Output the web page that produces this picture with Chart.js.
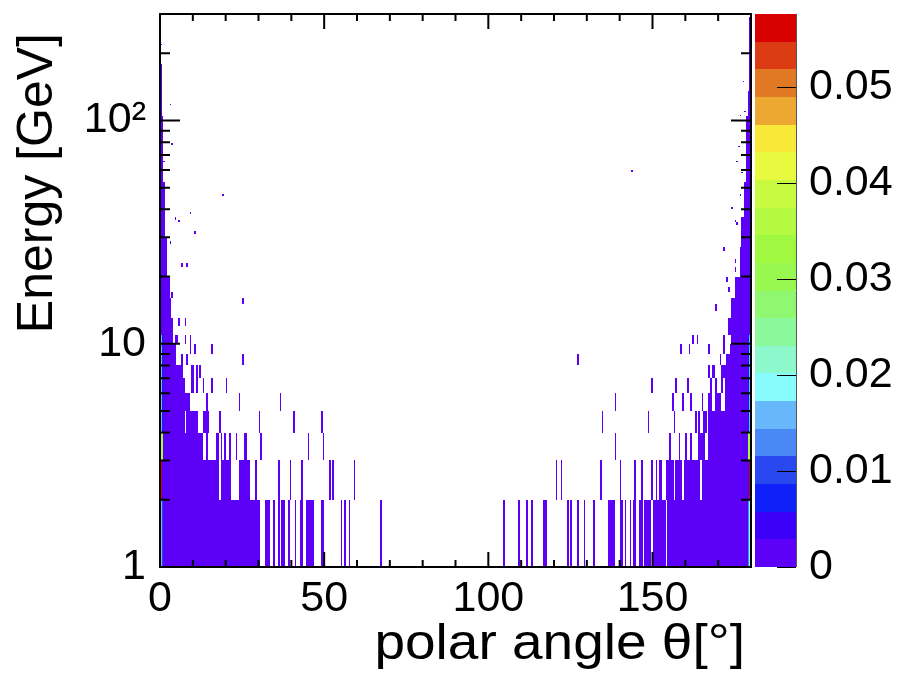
<!DOCTYPE html>
<html>
<head>
<meta charset="utf-8">
<script src="https://cdn.jsdelivr.net/npm/chart.js@4.4.1/dist/chart.umd.min.js"></script>
<style>
  html, body { margin: 0; padding: 0; background: #fff; }
  canvas { display: block; }
</style>
</head>
<body>
<canvas id="chartTheta" width="899" height="684"></canvas>
<script>
// axis ticks and titles
const X_TICKS = [0, 50, 100, 150];
const X_MINOR = [10, 20, 30, 40, 60, 70, 80, 90, 110, 120, 130, 140, 160, 170];
const Y_TICKS = [1, 10, 100];
const Y_TICK_LABELS = ['1', '10', '10²'];
const Y_MINOR = [2, 3, 4, 5, 6, 7, 8, 9, 20, 30, 40, 50, 60, 70, 80, 90, 200];
const Z_TICKS = [0, 0.01, 0.02, 0.03, 0.04, 0.05];
const Z_TICK_LABELS = ['0', '0.01', '0.02', '0.03', '0.04', '0.05'];
const X_TITLE = 'polar angle θ[°]';
const Y_TITLE = 'Energy [GeV]';

// ranges
const THETA_MIN = 0, THETA_MAX = 180, THETA_BIN = 0.5;
const E_MIN = 1, E_MAX = 300;
const Z_MAX = 0.0576, Z_LEVELS = 20;

// ROOT palette, one colour per contour level (bottom -> top)
const PALETTE = [
    '#5c00f8', '#3a00f8', '#1020f8', '#2a48f0', '#4a88f5',
    '#66b8fa', '#88fcfc', '#8cf8cc', '#8cf89c', '#90f870',
    '#98f850', '#a0f840', '#b4fa40', '#c8fa40', '#e8fa40',
    '#f8e838', '#eca830', '#e07824', '#dc3c14', '#d80000'
];

// filled theta spans [from, to] (deg) per 1 GeV energy row, rows 1..10
const E_ROWS = [1, 2, 3, 4, 5, 6, 7, 8, 9, 10];
const ROW_SPANS = [
    [[0, 30.5], [32, 33.5], [34.5, 35], [36, 36.5], [37, 38], [39, 39.5], [41, 41.5], [42.5, 43.5], [44.5, 47], [49, 50],
     [55, 55.5], [56, 56.5], [57.5, 58], [67, 67.5],
     [104.5, 105], [109, 109.5], [111.5, 112], [113, 113.5], [116.5, 118], [124, 124.5], [125, 125.5], [127, 127.5],
     [129, 129.5], [132, 132.5], [136.5, 138.5], [140, 141], [141.5, 142], [143, 143.5], [144, 145], [146, 147],
     [147.5, 149.5], [150, 154], [154.5, 180]],
    [[0, 18], [18.5, 21.5], [24, 27.5], [29, 29.5], [36, 36.5], [39.5, 40], [43, 43.5], [51.5, 52], [52.5, 53], [59, 59.5],
     [120.5, 121], [122, 122.5], [134, 134.5], [140, 140.5], [144.5, 145], [146.5, 147], [149.5, 150], [151, 151.5],
     [152, 153], [154, 156.5], [157, 159], [159.5, 164.5], [165, 180]],
    [[0, 13], [14, 14.5], [17, 18], [18.5, 19], [19.5, 20], [21, 21.5], [23, 23.5], [25.5, 26.5], [30.5, 31], [45, 45.5], [49.5, 50],
     [138.5, 139], [155, 155.5], [158, 158.5], [160, 160.5], [161.5, 162], [164, 166], [167, 180]],
    [[0, 7.5], [8, 11.5], [13, 15], [18, 18.5], [30, 30.5], [40.5, 41], [49, 49.5],
     [134.5, 135], [148.5, 149], [156.5, 157], [163, 163.5], [164, 164.5], [165.5, 166.5], [167, 180]],
    [[0, 9], [14, 14.5], [24, 24.5], [36.5, 37],
     [138.5, 139], [156, 156.5], [159, 159.5], [161.5, 162], [165, 165.5], [167, 168], [169, 171], [172, 180]],
    [[0, 7.5], [9.5, 10.5], [11, 11.5], [13, 13.5], [15.5, 16], [20, 20.5],
     [149.5, 150], [157, 157.5], [160.5, 161], [167.5, 168], [169, 169.5], [171, 171.5], [172, 180]],
    [[0, 7], [9.5, 10.5], [11, 11.5], [12, 12.5],
     [167, 167.5], [168, 169], [171, 180]],
    [[0, 5], [6.5, 7], [8, 8.5], [25, 25.5],
     [127, 127.5], [170.5, 171], [172.5, 180]],
    [[0, 5], [9, 9.5], [10.5, 11], [15.5, 16],
     [158.5, 159], [161, 161.5], [167, 167.5], [171.5, 172], [173.5, 180]],
    [[0, 4], [4.5, 5.5], [7.5, 8], [9, 9.5],
     [162, 162.5], [163.5, 164], [171.5, 172], [174, 180]]
];

// higher energies: [E from, E to, filled width from 0 deg, filled width from 180 deg]
const EDGE_BANDS = [
    [11, 13, 4, 7],
    [13, 16, 3.5, 6],
    [16, 20, 3, 5],
    [20, 27, 2, 3.5],
    [27, 30, 2, 3],
    [30, 37, 1.5, 3],
    [37, 53, 1.5, 2],
    [53, 105, 1, 1.5],
    [105, 135, 0.5, 1],
    [135, 180, 0.5, 0.5],
    [180, 290, 0, 0.5]
];

// isolated filled cells [theta deg, E GeV]
const SCATTER = [
    [0.25, 220], [3.25, 118], [19.25, 46], [9.0, 38], [10.5, 31], [25.25, 15.6], [4.9, 36.6], [5.75, 35],
    [6.75, 22.5], [8.0, 22.5], [3.75, 78], [1.25, 65], [3.9, 16], [5.5, 12.5], [7.5, 12.5], [3.25, 28],
    [143.5, 59], [177.5, 150], [178.25, 109], [176.75, 105], [176.25, 76], [175.5, 65], [177, 58], [176.5, 46],
    [174, 40], [175, 35], [175.5, 34], [171.75, 26.8], [175.25, 23.4], [175.25, 21], [172.5, 19], [173, 17.6],
    [169.25, 14.9]
];

// bins next to the beam axis carry most of the weight (rows 1..10)
const HOT_LEFT_EDGE  = [0.017, 0.055, 0.037, 0.016, 0.016, 0.016, 0.016, 0.016, 0.016, 0.016];
const HOT_LEFT_NEXT  = [0.010, 0.004, 0.032, 0.006, 0.006, 0.006, 0.006, 0.006, 0.006, 0.006];
const HOT_RIGHT_EDGE = [0.020, 0.055, 0.037, 0.016, 0.016, 0.016, 0.016, 0.016, 0.016, 0.016];
const HOT_RIGHT_NEXT = [0.012, 0.008, 0.032, 0.008, 0.008, 0.008, 0.008, 0.008, 0.008, 0.008];
const BASE_VALUE = 0.0008;

function buildCells() {
    const map = new Map();
    const put = (x, e, v) => map.set(x + '|' + e, { x: x, e: e, v: v });
    const fillSpan = (a, b, e, v) => {
        for (let x = a; x < b - 1e-9; x += THETA_BIN) put(x, e, v);
    };

    E_ROWS.forEach((e, i) => {
        ROW_SPANS[i].forEach(s => fillSpan(s[0], s[1], e, BASE_VALUE));
    });
    EDGE_BANDS.forEach(([e0, e1, wl, wr]) => {
        for (let e = e0; e < e1; e++) {
            fillSpan(THETA_MIN, THETA_MIN + wl, e, BASE_VALUE);
            fillSpan(THETA_MAX - wr, THETA_MAX, e, BASE_VALUE);
        }
    });
    SCATTER.forEach(([t, en]) => {
        put(Math.floor(t / THETA_BIN) * THETA_BIN, Math.floor(en), BASE_VALUE);
    });
    E_ROWS.forEach((e, i) => {
        put(0, e, HOT_LEFT_EDGE[i]);
        put(0.5, e, HOT_LEFT_NEXT[i]);
        put(179.5, e, HOT_RIGHT_EDGE[i]);
        put(179, e, HOT_RIGHT_NEXT[i]);
    });
    return Array.from(map.values());
}

const cells = buildCells();

function colourFor(v) {
    const k = Math.min(Z_LEVELS - 1, Math.floor(v / (Z_MAX / Z_LEVELS)));
    return PALETTE[k];
}

// keep the frame exactly where the reference has it
function noPad(s) {
    s.paddingTop = 0; s.paddingBottom = 0; s.paddingLeft = 0; s.paddingRight = 0;
}

const colzPlugin = {
    id: 'colz',
    beforeDatasetsDraw(chart) {
        const { ctx, chartArea: ca, scales } = chart;
        const xs = scales.x, ys = scales.y;
        ctx.save();
        ctx.beginPath();
        ctx.rect(ca.left, ca.top, ca.width, ca.height);
        ctx.clip();
        cells.forEach(c => {
            const x0 = Math.round(xs.getPixelForValue(c.x));
            const x1 = Math.round(xs.getPixelForValue(c.x + THETA_BIN));
            const yb = Math.round(ys.getPixelForValue(c.e));
            const yt = Math.round(ys.getPixelForValue(c.e + 1));
            ctx.fillStyle = colourFor(c.v);
            ctx.fillRect(x0, yt, Math.max(1, x1 - x0), Math.max(1, yb - yt));
        });
        ctx.restore();
    },
    afterDraw(chart) {
        const { ctx, chartArea: ca, scales } = chart;
        const xs = scales.x, ys = scales.y, zs = scales.z;
        ctx.save();
        ctx.strokeStyle = '#000';
        ctx.lineWidth = 2;

        // axis ticks, drawn inside the frame on all four sides
        const xTick = (v, len) => {
            const px = xs.getPixelForValue(v);
            ctx.beginPath();
            ctx.moveTo(px, ca.bottom); ctx.lineTo(px, ca.bottom - len);
            ctx.moveTo(px, ca.top); ctx.lineTo(px, ca.top + len);
            ctx.stroke();
        };
        const yTick = (v, len) => {
            const py = ys.getPixelForValue(v);
            ctx.beginPath();
            ctx.moveTo(ca.left, py); ctx.lineTo(ca.left + len, py);
            ctx.moveTo(ca.right, py); ctx.lineTo(ca.right - len, py);
            ctx.stroke();
        };
        X_TICKS.forEach(v => xTick(v, 15));
        X_MINOR.forEach(v => xTick(v, 7));
        Y_TICKS.forEach(v => yTick(v, 20));
        Y_MINOR.forEach(v => yTick(v, 10));

        ctx.strokeRect(ca.left, ca.top, ca.width, ca.height);

        // colour scale
        const left = zs.left + 4, right = zs.left + 45;
        const step = Z_MAX / Z_LEVELS;
        for (let k = 0; k < Z_LEVELS; k++) {
            const y0 = Math.round(zs.getPixelForValue(k * step));
            const y1 = Math.round(zs.getPixelForValue((k + 1) * step));
            ctx.fillStyle = PALETTE[k];
            ctx.fillRect(left, y1, right - left, y0 - y1);
        }
        ctx.lineWidth = 1;
        ctx.strokeStyle = '#555';
        ctx.beginPath();
        ctx.moveTo(right + 0.5, zs.top); ctx.lineTo(right + 0.5, zs.bottom);
        ctx.stroke();
        ctx.strokeStyle = '#000';
        Z_TICKS.forEach(v => {
            const py = Math.round(zs.getPixelForValue(v)) + 0.5;
            ctx.beginPath();
            ctx.moveTo(right, py); ctx.lineTo(right - 19, py);
            ctx.stroke();
        });

        // axis titles, right-aligned to the axis ends as ROOT does
        ctx.fillStyle = '#000';
        ctx.font = "50px 'Liberation Sans', Arial, sans-serif";
        ctx.textAlign = 'right';
        ctx.textBaseline = 'alphabetic';
        ctx.save();
        ctx.translate(ca.right - 6, 659);
        ctx.scale(1.1, 1);
        ctx.fillText(X_TITLE, 0, 0);
        ctx.restore();
        ctx.save();
        ctx.translate(52, ca.top + 19);
        ctx.rotate(-Math.PI / 2);
        ctx.fillText(Y_TITLE, 0, 0);
        ctx.restore();
        ctx.restore();
    }
};

Chart.defaults.font.family = "'Liberation Sans', Arial, Helvetica, sans-serif";
Chart.defaults.color = '#000';

new Chart(document.getElementById('chartTheta').getContext('2d'), {
    type: 'scatter',
    data: { datasets: [{ data: [], pointRadius: 0 }] },
    plugins: [colzPlugin],
    options: {
        responsive: false,
        animation: false,
        devicePixelRatio: 1,
        layout: { padding: { top: 14, left: 0, right: 0, bottom: 0 } },
        plugins: { legend: { display: false }, tooltip: { enabled: false } },
        scales: {
            x: {
                type: 'linear',
                position: 'bottom',
                min: THETA_MIN,
                max: THETA_MAX,
                grid: { display: false, drawTicks: false },
                border: { display: false },
                afterBuildTicks: s => { s.ticks = X_TICKS.map(v => ({ value: v })); },
                afterFit: s => { s.height = 117; noPad(s); },
                ticks: { autoSkip: false, maxRotation: 0, padding: 6, font: { size: 43 }, callback: v => String(v) }
            },
            y: {
                type: 'logarithmic',
                position: 'left',
                min: E_MIN,
                max: E_MAX,
                grid: { display: false, drawTicks: false },
                border: { display: false },
                afterBuildTicks: s => { s.ticks = Y_TICKS.map(v => ({ value: v })); },
                afterFit: s => { s.width = 160; noPad(s); },
                ticks: {
                    autoSkip: false,
                    padding: 14,
                    font: { size: 43 },
                    callback: (v) => Y_TICK_LABELS[Y_TICKS.indexOf(v)]
                }
            },
            z: {
                type: 'linear',
                position: 'right',
                min: 0,
                max: Z_MAX,
                grid: { display: false, drawTicks: false },
                border: { display: false },
                afterBuildTicks: s => { s.ticks = Z_TICKS.map(v => ({ value: v })); },
                afterFit: s => { s.width = 148; noPad(s); },
                ticks: {
                    autoSkip: false,
                    padding: 58,
                    font: { size: 43 },
                    callback: (v) => Z_TICK_LABELS[Z_TICKS.indexOf(v)]
                }
            }
        }
    }
});
</script>
</body>
</html>
